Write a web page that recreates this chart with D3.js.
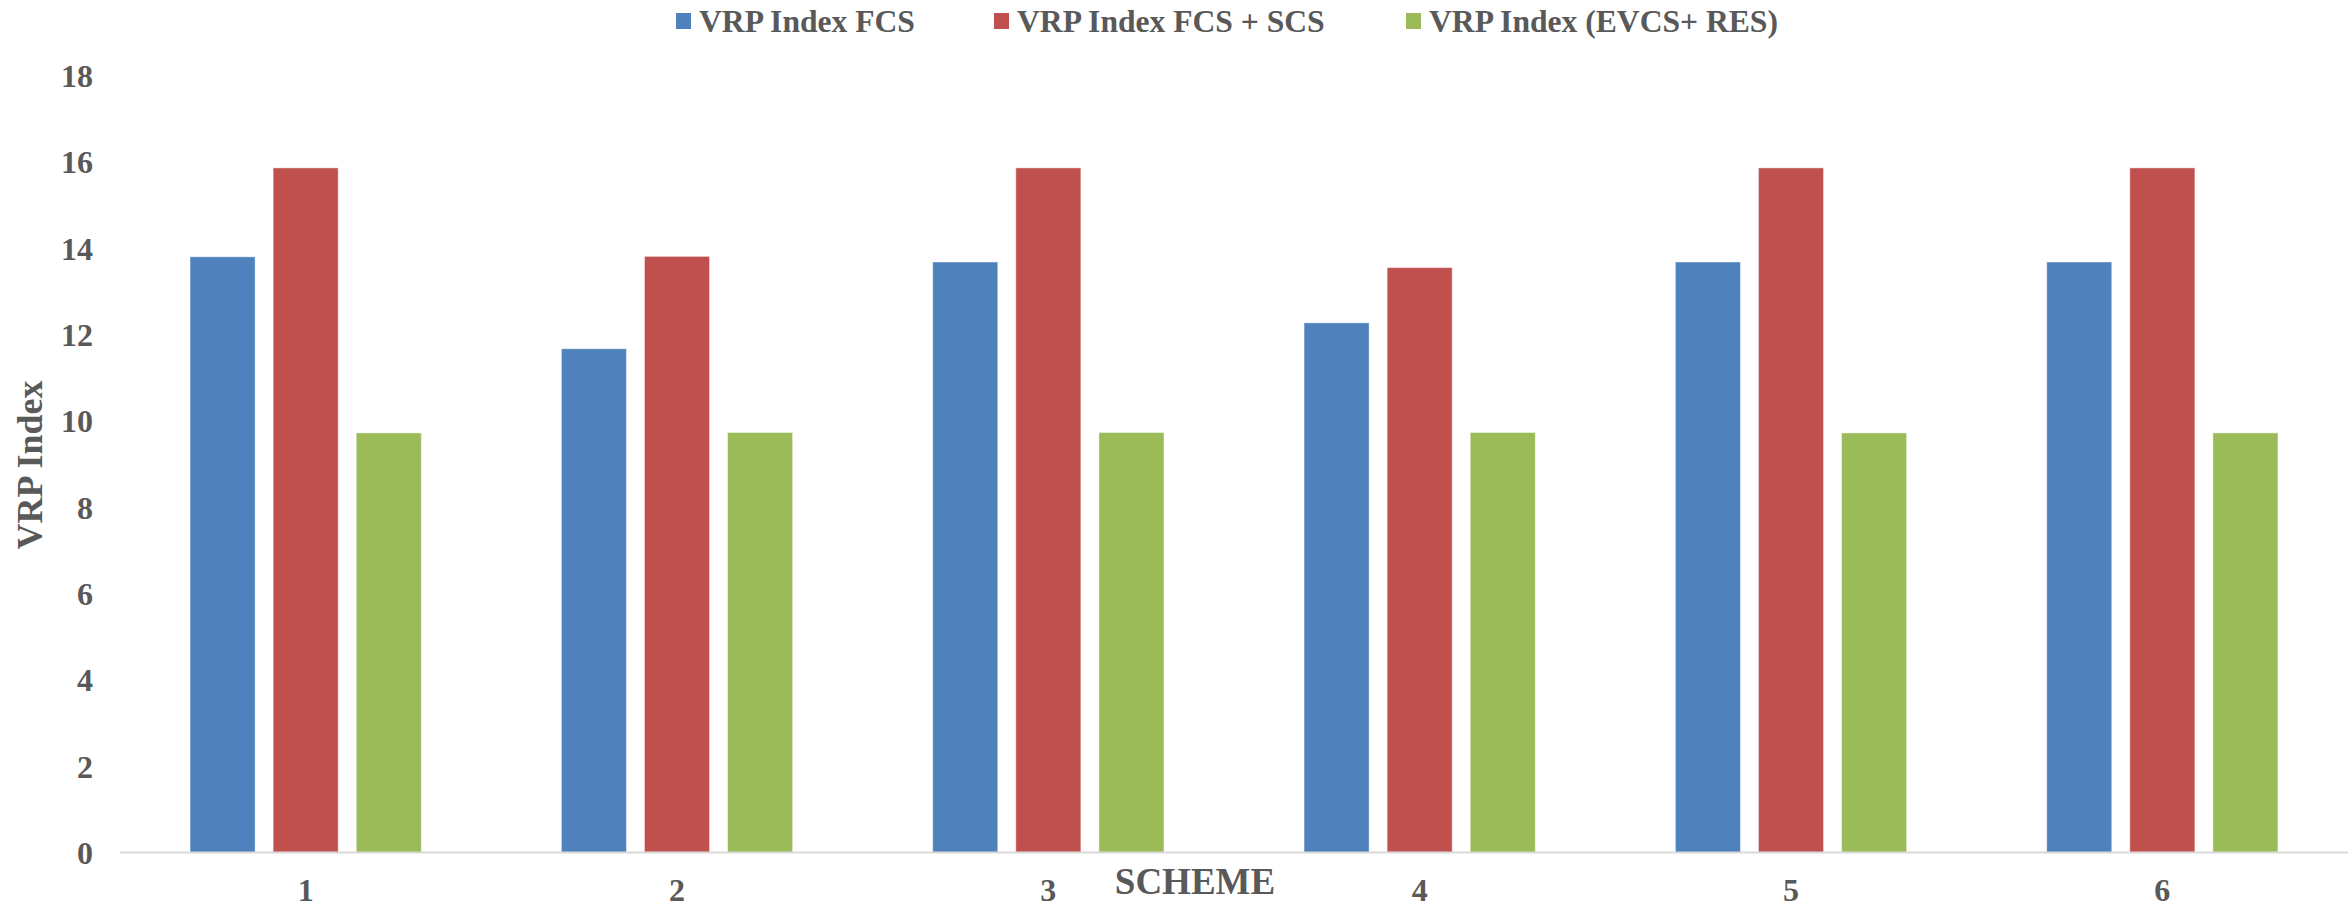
<!DOCTYPE html>
<html>
<head>
<meta charset="utf-8">
<script src="https://cdn.jsdelivr.net/npm/d3@7"></script>
<style>
  html, body { margin: 0; padding: 0; background: #ffffff; }
  svg { display: block; }
  text { font-family: "Liberation Serif", "Times New Roman", serif; font-weight: bold; fill: #595959; }
</style>
</head>
<body>
<svg id="chart" width="2348" height="907"></svg>
<script>
// Schemes on the x axis
const schemes = ["1", "2", "3", "4", "5", "6"];

// Series names (legend order)
const seriesNames = ["VRP Index FCS", "VRP Index FCS + SCS", "VRP Index (EVCS+ RES)"];
const seriesColors = ["#4F81BD", "#C0504D", "#9BBB59"];

// VRP index per scheme for each configuration
const vrpFCS     = [13.80, 11.67, 13.68, 12.27, 13.68, 13.68];
const vrpFCSSCS  = [15.86, 13.81, 15.86, 13.55, 15.86, 15.86];
const vrpEVCSRES = [9.72, 9.73, 9.73, 9.73, 9.72, 9.72];

// Y axis ticks
const yTicks = [0, 2, 4, 6, 8, 10, 12, 14, 16, 18];

const seriesValues = [vrpFCS, vrpFCSSCS, vrpEVCSRES];

const svg = d3.select("#chart");
const W = 2348, H = 907;
const plot = { left: 120, right: 2348, top: 75.5, bottom: 852.5 };

const x0 = d3.scaleBand()
  .domain(schemes)
  .range([plot.left, plot.right])
  .paddingInner(0)
  .paddingOuter(0);

const x1 = d3.scaleBand()
  .domain(seriesNames)
  .range([0, x0.bandwidth()])
  .paddingInner(0.217)
  .paddingOuter(0.843);

const y = d3.scaleLinear()
  .domain([0, 18])
  .range([plot.bottom, plot.top]);

// Bars
const groups = svg.append("g").attr("class", "bars")
  .selectAll("g")
  .data(schemes)
  .join("g")
  .attr("transform", d => `translate(${x0(d)},0)`);

groups.selectAll("rect")
  .data((d, i) => seriesNames.map((s, k) => ({ series: s, k, value: seriesValues[k][i] })))
  .join("rect")
  .attr("x", d => x1(d.series))
  .attr("width", x1.bandwidth())
  .attr("y", d => y(d.value))
  .attr("height", d => y(0) - y(d.value))
  .attr("fill", d => seriesColors[d.k])
  .attr("stroke", "rgba(255,255,255,0.45)")
  .attr("stroke-width", 1);

// X axis baseline
svg.append("line")
  .attr("x1", plot.left).attr("x2", plot.right)
  .attr("y1", y(0)).attr("y2", y(0))
  .attr("stroke", "#d9d9d9")
  .attr("stroke-width", 2);

// Y axis tick labels
const yAxis = d3.axisLeft(y).tickValues(yTicks).tickSize(0).tickPadding(0).tickFormat(d3.format("d"));
const gy = svg.append("g")
  .attr("transform", `translate(93,0)`)
  .call(yAxis);
gy.select(".domain").remove();
gy.selectAll("text")
  .attr("font-size", 32)
  .attr("font-family", null)
  .attr("fill", "#595959")
  .attr("dy", "0.34em");

// X axis tick labels
const xAxis = d3.axisBottom(x0).tickSize(0).tickPadding(0);
const gx = svg.append("g")
  .attr("transform", `translate(0,${y(0)})`)
  .call(xAxis);
gx.select(".domain").remove();
gx.selectAll("text")
  .attr("font-size", 32)
  .attr("font-family", null)
  .attr("fill", "#595959")
  .attr("dy", null)
  .attr("y", 48);

// Axis titles
svg.append("text")
  .attr("x", 1195).attr("y", 894)
  .attr("text-anchor", "middle")
  .attr("font-size", 37)
  .text("SCHEME");

svg.append("text")
  .attr("transform", `translate(42,465) rotate(-90)`)
  .attr("text-anchor", "middle")
  .attr("font-size", 36)
  .text("VRP Index");

// Legend
const legendX = [676, 994, 1406];
const legend = svg.append("g").attr("class", "legend");
seriesNames.forEach((name, k) => {
  legend.append("rect")
    .attr("x", legendX[k]).attr("y", 13)
    .attr("width", 15).attr("height", 16)
    .attr("fill", seriesColors[k]);
  legend.append("text")
    .attr("x", legendX[k] + 23).attr("y", 32)
    .attr("font-size", 31.6)
    .text(name);
});
</script>
</body>
</html>
